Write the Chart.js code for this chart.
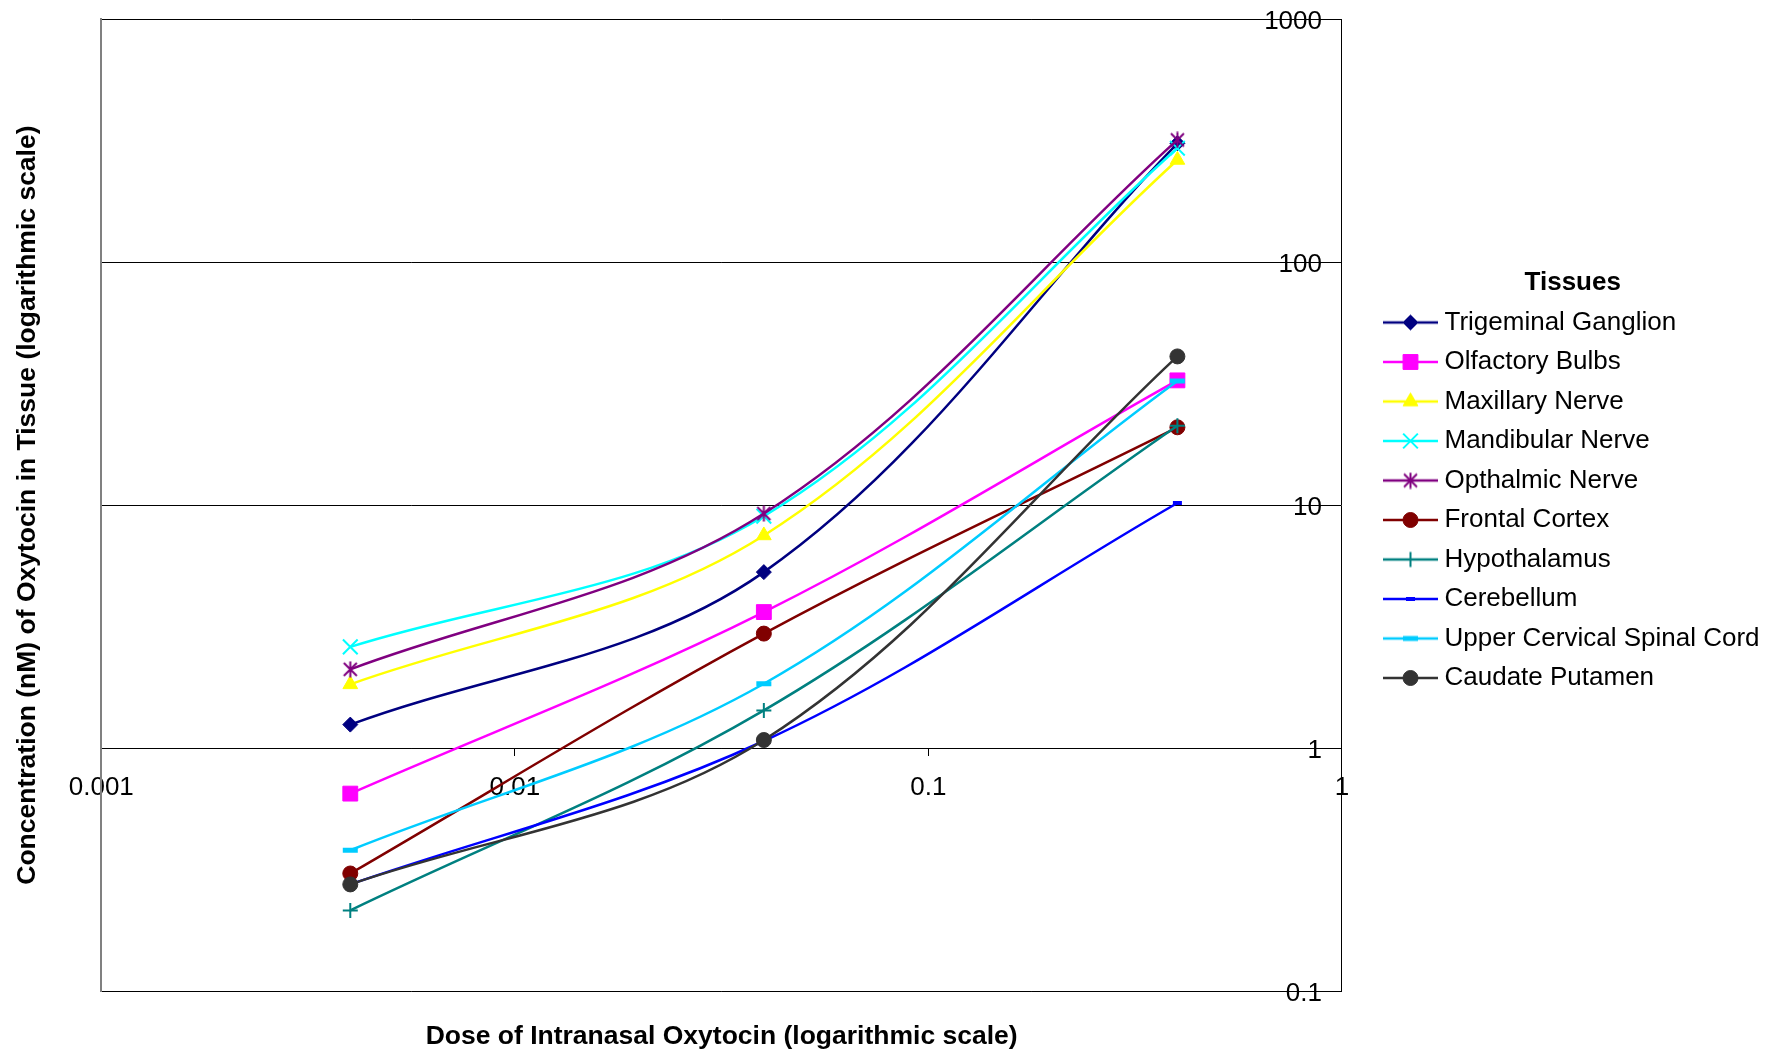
<!DOCTYPE html>
<html>
<head>
<meta charset="utf-8">
<title>Oxytocin in tissue</title>
<script src="https://cdn.jsdelivr.net/npm/chart.js@4.4.1/dist/chart.umd.min.js"></script>
<style>
  html, body { margin: 0; padding: 0; background: #fff; }
  .wrap { width: 1783px; height: 1055px; position: relative; }
</style>
</head>
<body>
<div class="wrap"><canvas id="chart"></canvas></div>
<script>
{
  'use strict';

  /* Data */
  const doses = [0.004, 0.04, 0.4];
  const tissues = [
    'Trigeminal Ganglion', 'Olfactory Bulbs', 'Maxillary Nerve', 'Mandibular Nerve',
    'Opthalmic Nerve', 'Frontal Cortex', 'Hypothalamus', 'Cerebellum',
    'Upper Cervical Spinal Cord', 'Caudate Putamen'
  ];
  const trigeminalGanglion = [1.25, 5.3, 308];
  const olfactoryBulbs = [0.65, 3.63, 32.6];
  const maxillaryNerve = [1.83, 7.5, 263];
  const mandibularNerve = [2.61, 9.0, 294];
  const opthalmicNerve = [2.11, 9.23, 318];
  const frontalCortex = [0.305, 2.96, 20.9];
  const hypothalamus = [0.215, 1.43, 21.2];
  const cerebellum = [0.275, 1.07, 10.2];
  const upperCervicalSpinalCord = [0.38, 1.84, 32.4];
  const caudatePutamen = [0.275, 1.08, 40.9];

  const xTicks = [0.001, 0.01, 0.1, 1];
  const xTickLabels = ['0.001', '0.01', '0.1', '1'];
  const yTicks = [0.1, 1, 10, 100, 1000];
  const yTickLabels = ['0.1', '1', '10', '100', '1000'];

  const seriesValues = [
    trigeminalGanglion, olfactoryBulbs, maxillaryNerve, mandibularNerve, opthalmicNerve,
    frontalCortex, hypothalamus, cerebellum, upperCervicalSpinalCord, caudatePutamen
  ];

  /* Styles */
  const colors = ['#000080', '#ff00ff', '#ffff00', '#00ffff', '#800080',
    '#800000', '#008080', '#0000ff', '#00ccff', '#333333'];
  const markerSizes = [7.5, 10.5, 8.5, 10.4, 7, 7.5, 7.5, 4.5, 7.5, 7.5];
  const markerBorders = [1, 1, 1, 2, 2, 1, 2, 4, 5, 1];
  const lineWidth = 2.5;

  // excel style star: an X with a vertical bar
  function makeStar(color) {
    const c = document.createElement('canvas');
    c.width = 17;
    c.height = 17;
    const ctx = c.getContext('2d');
    ctx.strokeStyle = color;
    ctx.lineWidth = 2;
    ctx.beginPath();
    ctx.moveTo(2, 2); ctx.lineTo(15, 15);
    ctx.moveTo(15, 2); ctx.lineTo(2, 15);
    ctx.moveTo(8.5, 0.5); ctx.lineTo(8.5, 16.5);
    ctx.stroke();
    return c;
  }

  const pointStyles = ['rectRot', 'rect', 'triangle', 'crossRot', makeStar(colors[4]),
    'circle', 'cross', 'line', 'line', 'circle'];

  // legend sample: short line with the marker in the middle
  function makeSample(i) {
    const c = document.createElement('canvas');
    c.width = 55;
    c.height = 22;
    const ctx = c.getContext('2d');
    ctx.strokeStyle = colors[i];
    ctx.fillStyle = colors[i];
    ctx.lineWidth = lineWidth;
    ctx.beginPath();
    ctx.moveTo(0, 11);
    ctx.lineTo(55, 11);
    ctx.stroke();
    ctx.lineWidth = markerBorders[i];
    Chart.helpers.drawPoint(ctx, {
      pointStyle: pointStyles[i], radius: markerSizes[i], borderWidth: markerBorders[i], rotation: 0
    }, 27.5, 11);
    return c;
  }

  const legendSamples = tissues.map((t, i) => makeSample(i));

  const datasets = tissues.map((name, i) => ({
    label: name,
    data: doses.map((d, j) => ({x: d, y: seriesValues[i][j]})),
    borderColor: colors[i],
    backgroundColor: colors[i],
    borderWidth: lineWidth,
    tension: 0.35,
    pointStyle: pointStyles[i],
    pointRadius: markerSizes[i],
    pointHoverRadius: markerSizes[i],
    pointBorderWidth: markerBorders[i],
    pointBackgroundColor: colors[i],
    pointBorderColor: colors[i],
    order: tissues.length - i
  }));

  Chart.defaults.font.family = '"Liberation Sans", Arial, sans-serif';
  Chart.defaults.color = '#000';

  /* Chart */
  new Chart(document.getElementById('chart'), {
    type: 'line',
    data: {datasets: datasets},
    options: {
      responsive: true,
      maintainAspectRatio: false,
      animation: false,
      layout: {padding: {top: 19, right: 13.5, bottom: 0, left: 0}},
      scales: {
        x: {
          type: 'logarithmic',
          position: {y: 1},
          min: 0.001,
          max: 1,
          afterBuildTicks: function (scale) {
            scale.ticks = xTicks.map(v => ({value: v}));
          },
          ticks: {
            callback: (v, i) => xTickLabels[i],
            font: {size: 26},
            padding: 17,
            autoSkip: false,
            maxRotation: 0
          },
          grid: {display: true, drawOnChartArea: false, drawTicks: true, tickLength: 7, color: '#000'},
          border: {display: true, color: '#000', width: 1}
        },
        y: {
          type: 'logarithmic',
          position: 'right',
          min: 0.1,
          max: 1000,
          afterBuildTicks: function (scale) {
            scale.ticks = yTicks.map(v => ({value: v}));
          },
          afterFit: function (scale) {
            scale.width = 34;
          },
          ticks: {
            callback: (v, i) => yTickLabels[i],
            font: {size: 26},
            mirror: true,
            padding: -20,
            labelOffset: 3
          },
          grid: {color: '#000', lineWidth: 1, drawTicks: false},
          border: {display: true, color: '#000', width: 1}
        },
        yl: {
          type: 'linear',
          position: 'left',
          ticks: {display: false},
          grid: {display: false, drawTicks: false},
          border: {display: true, color: '#808080', width: 2},
          title: {
            display: true,
            text: 'Concentration (nM) of Oxytocin in Tissue (logarithmic scale)',
            font: {size: 26.5, weight: 'bold'},
            padding: {top: 11.5, bottom: 58}
          }
        }
      },
      plugins: {
        legend: {
          position: 'right',
          align: 'start',
          maxWidth: 400,
          title: {
            display: true,
            text: 'Tissues',
            font: {size: 26, weight: 'bold', lineHeight: 1},
            padding: {top: 251, bottom: 0}
          },
          labels: {
            usePointStyle: true,
            pointStyleWidth: 42,
            padding: 13.5,
            font: {size: 26},
            sort: (a, b) => a.datasetIndex - b.datasetIndex,
            generateLabels: function (chart) {
              const items = Chart.defaults.plugins.legend.labels.generateLabels(chart);
              items.forEach(item => { item.pointStyle = legendSamples[item.datasetIndex]; });
              return items;
            }
          }
        },
        title: {
          display: true,
          position: 'bottom',
          fullSize: false,
          text: 'Dose of Intranasal Oxytocin (logarithmic scale)',
          font: {size: 26.5, weight: 'bold'},
          padding: {top: 30, bottom: 2}
        },
        tooltip: {enabled: false}
      }
    }
  });
}
</script>
</body>
</html>
